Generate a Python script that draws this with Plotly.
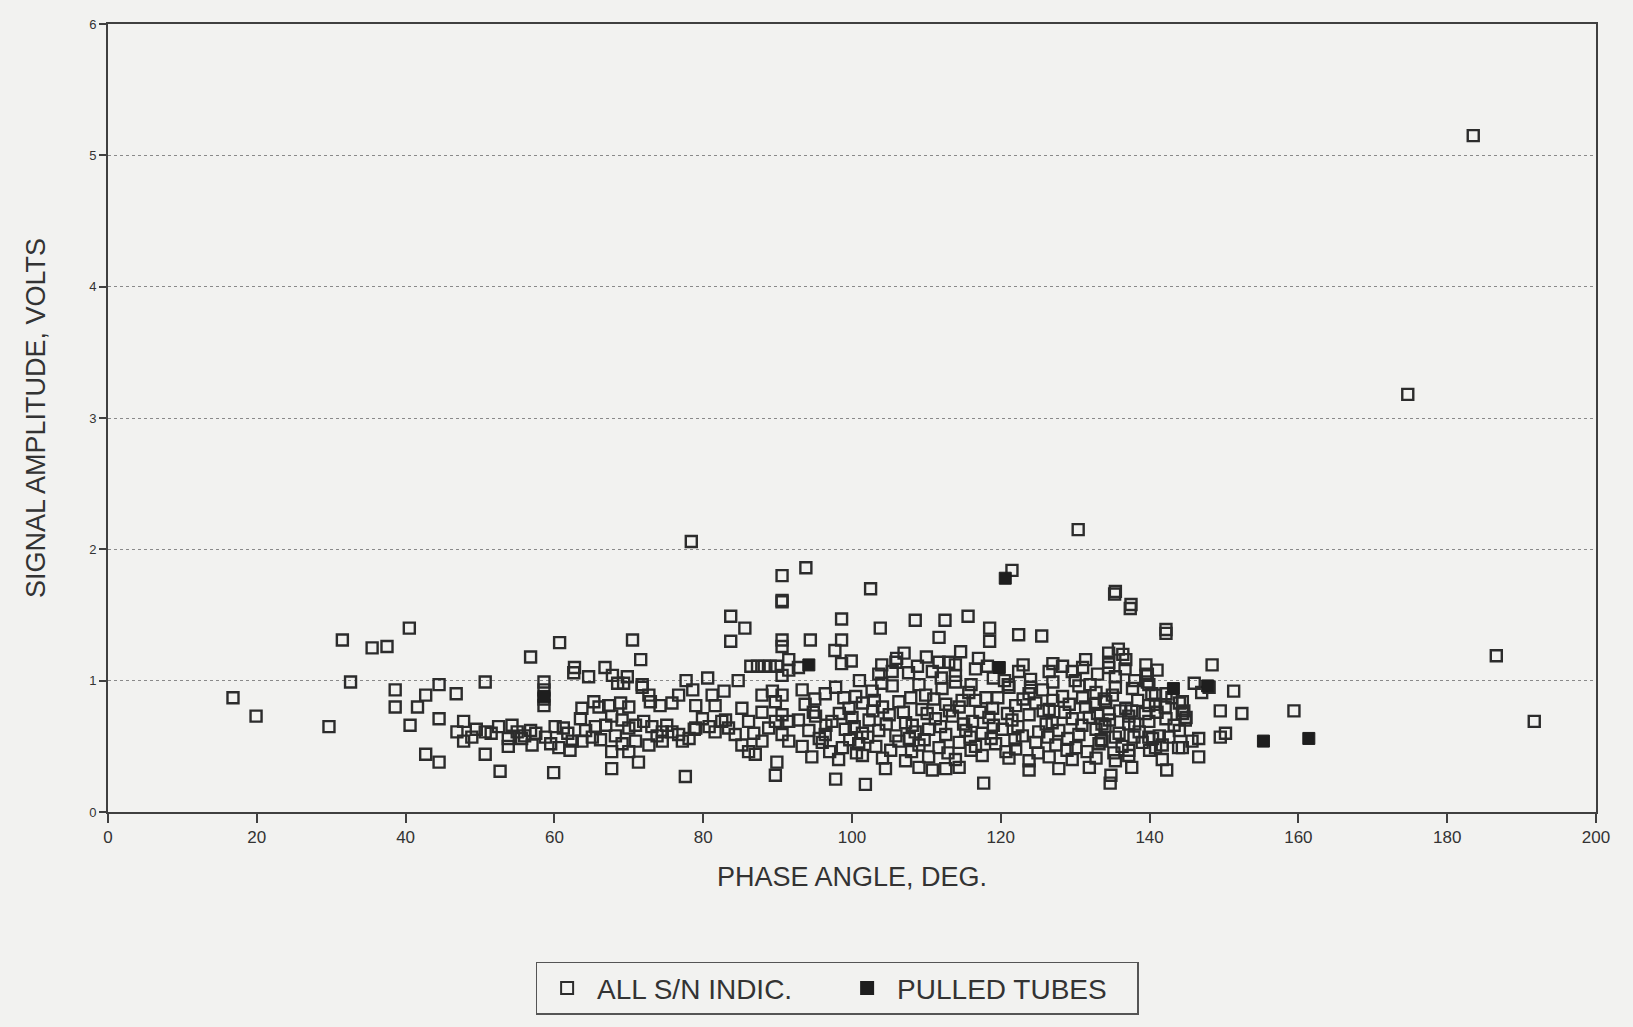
import plotly.graph_objects as go

# ---- ALL S/N INDICATIONS: phase angle (deg) and amplitude (volts) ----
sn_deg = [
    # low-angle scatter
    16.8, 19.9, 29.7, 31.5, 32.6, 35.5, 37.5, 38.6, 38.6, 40.5, 40.6, 41.6, 42.7, 44.5, 44.5, 42.7, 44.5, 46.8,
    # 45-92 region
    90.6, 83.7, 85.6, 83.7, 90.6, 90.6, 60.7, 70.5, 56.8, 71.6, 62.7, 66.8, 64.6, 67.8, 69.8, 69.3, 71.8,
    86.4, 87.3, 88.2, 89.0, 89.9, 91.5, 90.6, 91.5, 50.7, 77.7, 80.6, 84.7,
    58.6, 58.6, 58.6, 58.6,
    65.3, 63.7, 63.5, 66.0, 67.3, 68.9, 70.0, 71.8, 72.7, 72.9, 74.2, 75.8, 76.7, 79.0, 81.2, 82.8, 81.6,
    85.2, 87.9, 89.3, 89.7, 90.6,
    47.8, 46.9, 47.8, 48.9, 50.7, 52.5, 54.3, 55.0, 53.8, 55.6, 56.8, 53.8, 57.0, 58.8, 59.5, 60.6, 60.1,
    61.2, 62.4, 62.1, 63.7, 65.1, 65.5, 66.9, 67.7, 69.1, 70.0, 70.9, 72.0, 73.1, 74.5, 75.1, 75.8, 76.7,
    77.2, 78.1, 74.5, 72.7, 70.9, 69.1, 67.7, 70.0, 71.3, 67.7, 77.6, 89.7, 89.9, 79.0, 79.9, 80.8, 81.6,
    82.5, 83.4, 84.3, 85.2, 86.1, 87.0, 87.9, 88.8, 89.7, 90.6, 91.5, 90.6, 91.5, 87.9, 86.1, 50.7, 52.7, 59.9,
    49.5, 51.5, 56.0, 57.5, 61.8, 64.2, 66.2, 68.2, 73.8, 78.8, 83.0, 86.8, 62.6, 68.5, 78.6,
    # upper scatter 78-143
    78.4, 130.4, 90.6, 93.8, 102.5, 135.4, 137.5, 98.6, 103.8, 108.5, 112.5, 115.6, 118.5, 118.5, 111.7,
    122.4, 125.5, 142.2, 94.4, 98.6, 97.7, 98.6, 99.9, 92.8, 121.5, 90.6,
    # 1.0-1.2 band
    107.0, 105.9, 103.6, 105.4, 107.6, 108.8, 110.8, 111.7, 113.0, 114.6, 113.9, 113.9, 113.9, 116.6, 118.2,
    122.4, 126.5, 128.3, 129.6, 131.4, 134.5, 136.8, 135.4, 139.5, 139.5, 139.9, 140.8, 146.0, 144.4, 144.4,
    135.8, 136.4, 120.5, 124.0,
    101.0, 104.0, 109.0, 112.0, 116.0, 119.0, 121.0, 124.0, 127.0, 130.0, 132.0, 133.0, 138.0, 141.0, 131.0,
    127.0, 123.0, 117.0, 110.0, 106.0, 104.0,
    # dense cluster rows
    93.3, 96.4, 97.8, 100.5, 102.7, 105.4, 109.9, 112.1, 115.7, 118.0, 121.1, 123.8, 125.6, 128.3, 130.5, 132.8, 135.0, 137.7, 142.2,
    93.7, 99.6, 101.4, 104.1, 106.3, 109.4, 112.6, 114.4, 116.6, 118.9, 122.0, 124.7, 126.5, 129.2, 131.4, 134.1, 136.8, 139.9, 144.0,
    92.8, 95.1, 97.3, 100.0, 102.3, 105.0, 107.2, 111.2, 113.5, 116.2, 118.4, 121.5, 123.8, 126.9, 129.6, 131.9, 134.6, 137.2, 139.9, 142.2, 144.9,
    94.2, 96.4, 99.1, 101.4, 103.6, 105.9, 108.5, 110.3, 112.6, 115.3, 117.5, 120.2, 122.9, 125.1, 127.8, 130.5, 132.8, 135.9, 138.6, 141.3, 144.0,
    93.3, 96.0, 98.7, 100.9, 103.2, 106.3, 109.0, 111.7, 114.4, 116.6, 119.3, 122.0, 124.7, 127.4, 130.1, 133.2, 136.3, 139.0, 141.7, 144.4,
    94.6, 98.2, 101.4, 104.1, 107.2, 110.3, 113.9, 117.5, 121.1, 123.8, 126.5, 129.6, 132.8, 137.2, 141.7,
    104.5, 109.0, 110.8, 112.6, 114.4, 123.8, 127.8, 131.9,
    97.8, 101.8, 117.7, 134.8,
    # in-between rows of the dense cluster
    95.0, 98.9, 103.0, 107.9, 111.0, 114.8, 119.6, 123.0, 127.0, 131.0, 133.9, 138.4, 143.0,
    94.8, 98.3, 102.8, 106.9, 110.1, 113.1, 117.2, 120.9, 125.7, 128.6, 133.0, 136.0, 141.0,
    96.5, 100.3, 104.6, 108.1, 111.9, 115.0, 119.0, 122.3, 126.1, 130.9, 134.0, 138.0, 143.3,
    95.6, 99.7, 102.1, 107.7, 109.7, 115.9, 118.7, 121.9, 126.3, 129.0, 133.5, 137.9, 140.4,
    97.0, 100.6, 105.2, 108.0, 112.9, 116.0, 120.7, 125.0, 128.9, 131.6, 135.2, 140.0,
    # right part of cluster and beyond
    135.3, 137.4, 142.2, 148.4, 134.5, 134.5, 136.7, 139.7, 139.7, 135.4, 147.0, 151.3, 159.4, 149.5, 152.4,
    149.5, 134.7, 142.3, 146.6, 146.6, 144.8, 144.6, 142.1, 140.8, 140.3, 139.4, 137.6, 137.2, 135.4, 133.6,
    137.2, 137.6, 135.4, 140.8, 142.6, 143.9, 145.7, 139.9, 134.5, 132.7, 133.6, 150.2, 148.0,
    # far outliers
    183.5, 174.7, 186.6, 191.7,
]

sn_volts = [
    0.87, 0.73, 0.65, 1.31, 0.99, 1.25, 1.26, 0.93, 0.80, 1.40, 0.66, 0.80, 0.89, 0.97, 0.71, 0.44, 0.38, 0.90,
    1.61, 1.49, 1.40, 1.30, 1.31, 1.26, 1.29, 1.31, 1.18, 1.16, 1.10, 1.10, 1.03, 1.04, 1.03, 0.98, 0.97,
    1.11, 1.11, 1.11, 1.11, 1.11, 1.16, 1.04, 1.08, 0.99, 1.00, 1.02, 1.00,
    0.99, 0.93, 0.86, 0.81,
    0.84, 0.79, 0.71, 0.80, 0.81, 0.83, 0.80, 0.95, 0.89, 0.84, 0.81, 0.83, 0.89, 0.81, 0.89, 0.92, 0.81,
    0.79, 0.89, 0.92, 0.84, 0.89,
    0.69, 0.61, 0.54, 0.57, 0.61, 0.65, 0.66, 0.61, 0.56, 0.56, 0.62, 0.50, 0.51, 0.57, 0.52, 0.49, 0.65,
    0.64, 0.54, 0.47, 0.54, 0.57, 0.65, 0.66, 0.73, 0.70, 0.64, 0.66, 0.69, 0.65, 0.61, 0.66, 0.61, 0.59,
    0.54, 0.56, 0.54, 0.51, 0.54, 0.52, 0.46, 0.46, 0.38, 0.33, 0.27, 0.28, 0.38, 0.64, 0.71, 0.65, 0.61,
    0.69, 0.64, 0.59, 0.51, 0.46, 0.44, 0.54, 0.64, 0.69, 0.59, 0.54, 0.74, 0.69, 0.76, 0.69, 0.44, 0.31, 0.30,
    0.63, 0.60, 0.58, 0.60, 0.60, 0.62, 0.55, 0.58, 0.58, 0.63, 0.70, 0.60, 1.06, 0.98, 0.93,
    2.06, 2.15, 1.80, 1.86, 1.70, 1.68, 1.58, 1.47, 1.40, 1.46, 1.46, 1.49, 1.40, 1.30, 1.33,
    1.35, 1.34, 1.39, 1.31, 1.31, 1.23, 1.13, 1.15, 1.10, 1.84, 1.60,
    1.21, 1.14, 1.05, 1.07, 1.06, 1.11, 1.07, 1.14, 1.14, 1.22, 1.12, 1.04, 0.99, 1.09, 1.11,
    1.07, 1.07, 1.11, 1.07, 1.16, 1.21, 1.16, 1.03, 1.12, 1.04, 0.97, 0.89, 0.98, 0.84, 0.75,
    1.24, 1.20, 1.00, 1.01,
    1.00, 0.98, 0.97, 1.02, 0.97, 1.02, 0.97, 0.95, 0.99, 1.00, 0.97, 1.05, 1.00, 1.08, 1.10,
    1.13, 1.12, 1.17, 1.18, 1.17, 1.12,
    0.93, 0.90, 0.95, 0.88, 0.92, 0.96, 0.89, 0.94, 0.91, 0.87, 0.95, 0.90, 0.93, 0.88, 0.96, 0.91, 0.89, 0.94, 0.90,
    0.82, 0.79, 0.83, 0.80, 0.84, 0.78, 0.82, 0.80, 0.85, 0.79, 0.81, 0.83, 0.78, 0.82, 0.80, 0.84, 0.79, 0.81, 0.83,
    0.70, 0.73, 0.69, 0.72, 0.70, 0.74, 0.68, 0.71, 0.73, 0.69, 0.72, 0.70, 0.74, 0.68, 0.71, 0.72, 0.70, 0.73, 0.69, 0.71, 0.72,
    0.62, 0.59, 0.63, 0.60, 0.62, 0.58, 0.61, 0.63, 0.59, 0.62, 0.60, 0.63, 0.58, 0.61, 0.62, 0.59, 0.63, 0.60, 0.61, 0.58, 0.62,
    0.50, 0.53, 0.49, 0.52, 0.50, 0.54, 0.51, 0.49, 0.53, 0.50, 0.52, 0.48, 0.53, 0.51, 0.49, 0.52, 0.50, 0.53, 0.51, 0.49,
    0.42, 0.40, 0.43, 0.41, 0.39, 0.42, 0.40, 0.43, 0.41, 0.39, 0.42, 0.40, 0.41, 0.43, 0.40,
    0.33, 0.34, 0.32, 0.33, 0.34, 0.32, 0.33, 0.34,
    0.25, 0.21, 0.22, 0.28,
    0.86, 0.87, 0.85, 0.87, 0.86, 0.85, 0.87, 0.86, 0.85, 0.87, 0.86, 0.85, 0.87,
    0.76, 0.75, 0.77, 0.76, 0.75, 0.77, 0.76, 0.75, 0.77, 0.76, 0.75, 0.77, 0.76,
    0.66, 0.65, 0.67, 0.66, 0.65, 0.67, 0.66, 0.65, 0.67, 0.66, 0.65, 0.67, 0.66,
    0.56, 0.55, 0.57, 0.56, 0.55, 0.57, 0.56, 0.55, 0.57, 0.56, 0.55, 0.57, 0.56,
    0.46, 0.45, 0.47, 0.46, 0.45, 0.47, 0.46, 0.45, 0.47, 0.46, 0.45, 0.47,
    1.66, 1.55, 1.36, 1.12, 1.14, 1.10, 1.09, 1.05, 0.99, 0.95, 0.91, 0.92, 0.77, 0.77, 0.75,
    0.57, 0.22, 0.32, 0.42, 0.56, 0.70, 0.77, 0.80, 0.82, 0.90, 0.75, 0.77, 0.67, 0.57, 0.54,
    0.47, 0.34, 0.39, 0.49, 0.57, 0.49, 0.54, 0.57, 0.75, 0.82, 0.67, 0.60, 0.95,
    5.15, 3.18, 1.19, 0.69,
]

# ---- PULLED TUBES ----
pulled_deg = [58.6, 94.2, 119.8, 120.6, 143.2, 147.8, 155.3, 161.4]
pulled_volts = [0.88, 1.12, 1.10, 1.78, 0.94, 0.96, 0.54, 0.56]

x_ticks = [0, 20, 40, 60, 80, 100, 120, 140, 160, 180, 200]
y_ticks = [0, 1, 2, 3, 4, 5, 6]

INK = "#2c2c2c"
BG = "#f2f2f0"
FONT = "Liberation Sans, Arial, sans-serif"

fig = go.Figure()
fig.add_trace(go.Scatter(
    x=sn_deg, y=sn_volts, mode="markers", name="ALL S/N INDIC.",
    marker=dict(symbol="square-open", size=11, color=INK, line=dict(width=2.4, color=INK)),
))
fig.add_trace(go.Scatter(
    x=pulled_deg, y=pulled_volts, mode="markers", name="PULLED TUBES",
    marker=dict(symbol="square", size=12, color="#1e1e1e", line=dict(width=1, color="#1e1e1e")),
))

fig.update_layout(
    width=1633, height=1027,
    paper_bgcolor=BG, plot_bgcolor=BG,
    margin=dict(l=108, r=37, t=24, b=213),
    font=dict(family=FONT, color=INK),
    showlegend=True,
    legend=dict(
        orientation="h", x=0.49, xanchor="center", y=-0.19, yanchor="top",
        bgcolor=BG, bordercolor="#555555", borderwidth=1.5,
        font=dict(size=28, family=FONT, color="#333333"),
        itemsizing="constant", itemwidth=50, entrywidth=235, entrywidthmode="pixels",
    ),
    xaxis=dict(
        range=[0, 200], tickvals=x_ticks, ticktext=[str(v) for v in x_ticks],
        showgrid=False, zeroline=False,
        showline=True, linecolor="#404040", linewidth=2, mirror=True,
        ticks="outside", ticklen=9, tickwidth=2, tickcolor="#404040",
        tickfont=dict(size=17, family=FONT, color="#333333"),
        title=dict(text="PHASE ANGLE, DEG.", font=dict(size=27, family=FONT, color="#333333"), standoff=21),
    ),
    yaxis=dict(
        range=[0, 6], tickvals=y_ticks, ticktext=[str(v) for v in y_ticks],
        showgrid=True, gridcolor="#8a8a8a", griddash="dot", gridwidth=1.2,
        zeroline=False,
        showline=True, linecolor="#404040", linewidth=2, mirror=True,
        ticks="outside", ticklen=7, tickwidth=2, tickcolor="#404040",
        tickfont=dict(size=13, family=FONT, color="#333333"),
        title=dict(text="SIGNAL AMPLITUDE, VOLTS", font=dict(size=27, family=FONT, color="#333333"), standoff=36),
    ),
)

fig.write_html(
    "out.html",
    config={"displayModeBar": False},
    post_script="document.body.style.margin='0';document.body.style.background='#f2f2f0';",
)
